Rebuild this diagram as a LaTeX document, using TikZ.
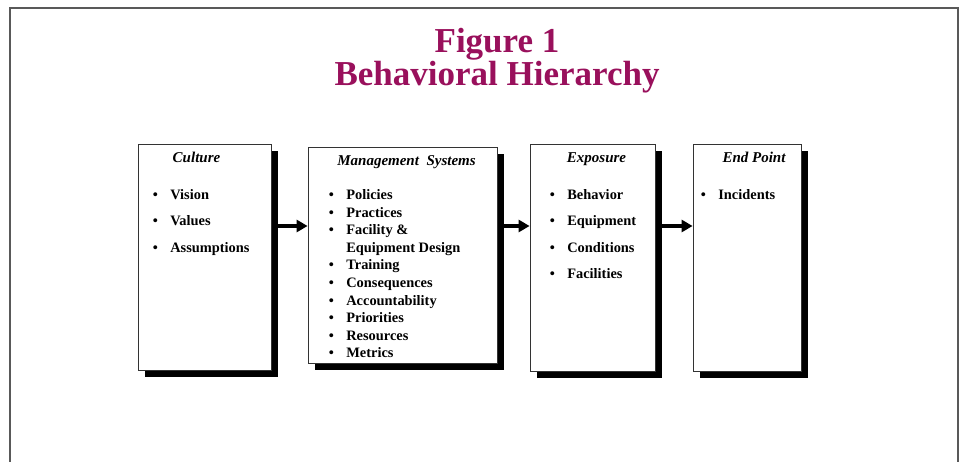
\documentclass[tikz,border=0pt]{standalone}
\usepackage{fontspec}
\setmainfont{Liberation Serif}
\usetikzlibrary{positioning}
\usetikzlibrary{arrows.meta}
\usetikzlibrary{shadows}
\definecolor{titlered}{RGB}{153,16,92}

\begin{document}
\begin{tikzpicture}[
			x=1pt, y=-1pt,
			box/.style={draw=black!80, line width=0.8pt, fill=white, rectangle, inner sep=0pt,
				drop shadow={shadow xshift=6.5pt, shadow yshift=-7.5pt, fill=black, opacity=1}},
			head/.style={inner sep=0pt, font=\fontsize{15}{18}\selectfont\bfseries\itshape},
			items/.style={inner sep=0pt, font=\fontsize{14.4}{26.4}\selectfont\bfseries},
			title/.style={inner sep=0pt, align=center, text=titlered, font=\fontsize{35}{30.5}\selectfont\bfseries},
			frame/.style={draw=black!65, line width=1.6pt},
			arrow/.style={-{Triangle[length=11pt,width=12pt]}, line width=3.4pt}
			]
			\useasboundingbox (0,0) rectangle (962,462);
			% Frame and title
			\draw[frame] (10,462) |- (958,8) -- (958,462);
			\node[title, anchor=north] (figtitle) at (497,28) {Figure 1\\Behavioral Hierarchy};
			
			% Boxes
			\node[box, minimum width=133pt, minimum height=226pt] (culture) at (204.5,257) {};
			\node[box, minimum width=189pt, minimum height=216pt] (mgmt) at (402.5,255) {};
			\node[box, minimum width=125pt, minimum height=227pt] (exposure) at (592.5,257.5) {};
			\node[box, minimum width=108pt, minimum height=227pt] (endpoint) at (747,257.5) {};
			
			% Headings
			\node[head, anchor=base] (culture-head) at ([xshift=-8pt, yshift=-19pt]culture.north) {Culture};
			\node[head, anchor=base] (mgmt-head) at ([xshift=4pt, yshift=-19pt]mgmt.north) {Management\ \ Systems};
			\node[head, anchor=base] (exposure-head) at ([xshift=4pt, yshift=-19pt]exposure.north) {Exposure};
			\node[head, anchor=base] (endpoint-head) at ([xshift=7pt, yshift=-19pt]endpoint.north) {End Point};
			
			% Lists
			\node[items, anchor=base west] (culture-items) at ([xshift=15pt, yshift=-56pt]culture.north west)
				{\begin{tabular}[t]{@{}l@{\hspace{12.5pt}}l@{}}
					\textbullet & Vision\\
					\textbullet & Values\\
					\textbullet & Assumptions
				\end{tabular}};
			\node[items, anchor=base west, font=\fontsize{14.4}{17.6}\selectfont\bfseries] (mgmt-items) at ([xshift=21pt, yshift=-53pt]mgmt.north west)
				{\begin{tabular}[t]{@{}l@{\hspace{12.5pt}}l@{}}
					\textbullet & Policies\\
					\textbullet & Practices\\
					\textbullet & Facility \&\\
					 & Equipment Design\\
					\textbullet & Training\\
					\textbullet & Consequences\\
					\textbullet & Accountability\\
					\textbullet & Priorities\\
					\textbullet & Resources\\
					\textbullet & Metrics
				\end{tabular}};
			\node[items, anchor=base west] (exposure-items) at ([xshift=20pt, yshift=-56pt]exposure.north west)
				{\begin{tabular}[t]{@{}l@{\hspace{12.5pt}}l@{}}
					\textbullet & Behavior\\
					\textbullet & Equipment\\
					\textbullet & Conditions\\
					\textbullet & Facilities
				\end{tabular}};
			\node[items, anchor=base west] (endpoint-items) at ([xshift=8pt, yshift=-56pt]endpoint.north west)
				{\begin{tabular}[t]{@{}l@{\hspace{12.5pt}}l@{}}
					\textbullet & Incidents
				\end{tabular}};
			
			% Arrows
			\coordinate (arrowrow) at (0,226);
			\draw[arrow] ([xshift=6pt]culture.east |- arrowrow) -- (mgmt.west |- arrowrow);
			\draw[arrow] ([xshift=6pt]mgmt.east |- arrowrow) -- (exposure.west |- arrowrow);
			\draw[arrow] ([xshift=6pt]exposure.east |- arrowrow) -- (endpoint.west |- arrowrow);
		\end{tikzpicture}
\end{document}
